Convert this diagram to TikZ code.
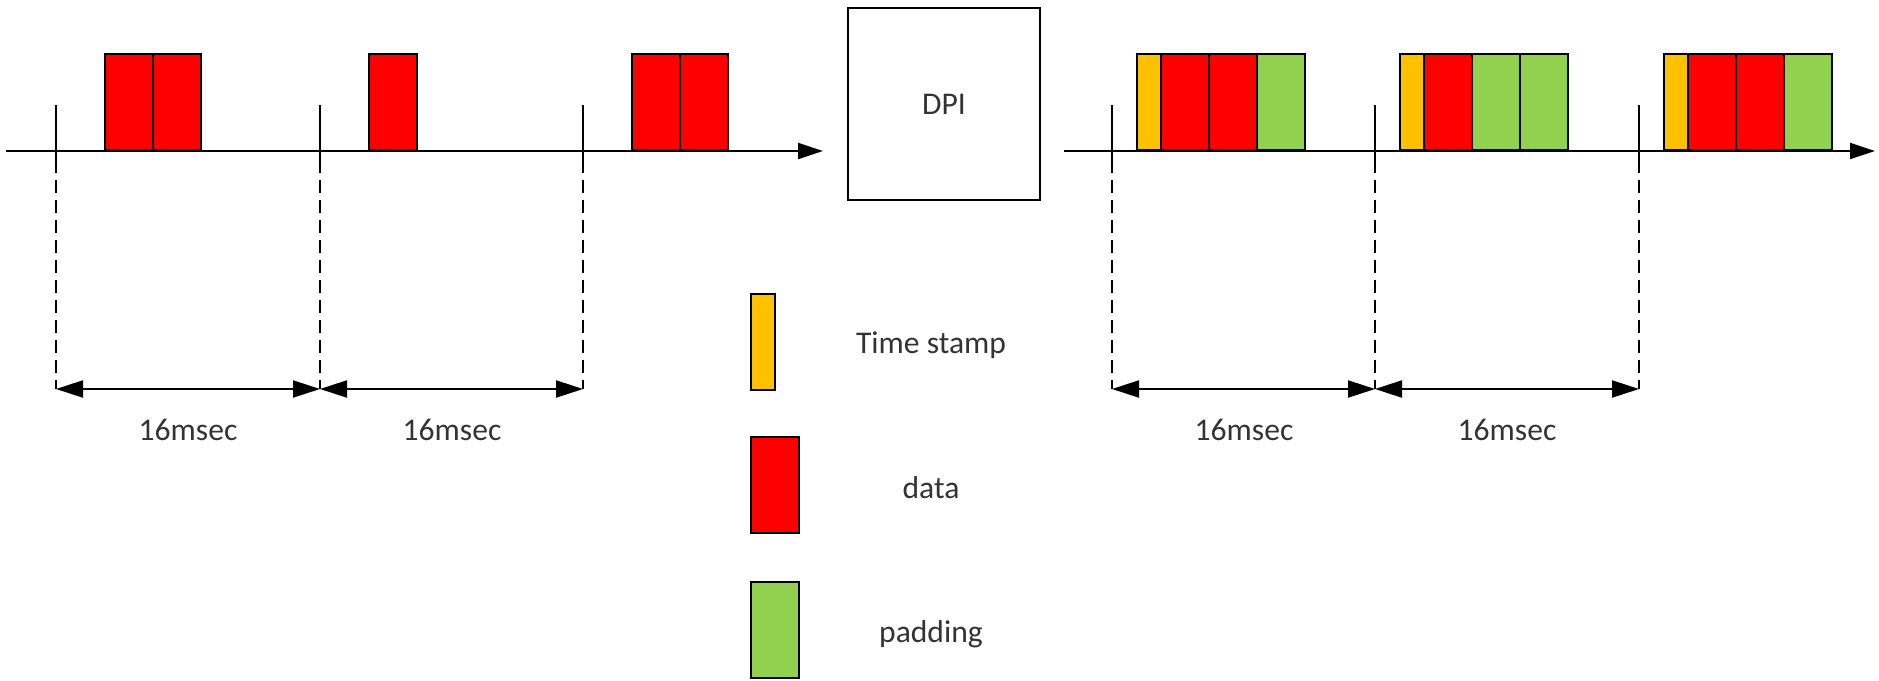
\documentclass[tikz,border=0pt]{standalone}
\usepackage{fontspec}
\setmainfont{Carlito}
\usepackage{xcolor}
\usetikzlibrary{arrows.meta}

\definecolor{tsorange}{HTML}{FFC000}
\definecolor{datared}{HTML}{FF0000}
\definecolor{padgreen}{HTML}{92D050}

\begin{document}
\begin{tikzpicture}[x=0.5pt,y=-0.5pt,line width=1pt,
		font=\fontsize{15.8}{19}\selectfont,text=black!80,
		axis/.style={-{Triangle[length=12.5pt,width=8pt]}},
		span/.style={{Triangle[length=13.5pt,width=8.5pt]}-{Triangle[length=13.5pt,width=8.5pt]}},
		guide/.style={dash pattern=on 6.5pt off 3.5pt},
		cell/.style={draw,inner sep=0pt,anchor=south west,minimum height=48pt},
		stampbox/.style={cell,fill=tsorange,minimum width=12pt},
		databox/.style={cell,fill=datared,minimum width=24pt},
		padbox/.style={cell,fill=padgreen,minimum width=24pt}]

			\useasboundingbox (0,0) rectangle (1879,680);

			% Time axes
			\coordinate (inS) at (6,151);
			\coordinate (inE) at (823,151);
			\coordinate (outS) at (1064,151);
			\coordinate (outE) at (1875,151);
			\draw[axis] (inS) -- (inE);
			\draw[axis] (outS) -- (outE);

			% Frame ticks and guides
			\foreach \x/\n in {56/a,320/b,583/c,1112/d,1375/e,1639/f} {
				\coordinate (top\n) at (\x,105);
				\coordinate (mid\n) at (\x,160);
				\coordinate (bot\n) at (\x,389);
				\draw (top\n) -- (mid\n);
				\draw[guide] (mid\n) -- (bot\n);
			}

			% Input packets
			\node[databox] (a1) at (104,151) {};
			\node[databox] (a2) at (152,151) {};
			\node[databox] (b1) at (368,151) {};
			\node[databox] (c1) at (631,151) {};
			\node[databox] (c2) at (679,151) {};

			% DPI
			\node[draw,minimum size=96pt,inner sep=0pt] (dpi) at (944,104) {DPI};

			% Output frames
			\node[stampbox] (d0) at (1136,151) {};
			\node[databox] (d1) at (1160,151) {};
			\node[databox] (d2) at (1208,151) {};
			\node[padbox] (d3) at (1256,151) {};

			\node[stampbox] (e0) at (1399,151) {};
			\node[databox] (e1) at (1423,151) {};
			\node[padbox] (e2) at (1471,151) {};
			\node[padbox] (e3) at (1519,151) {};

			\node[stampbox] (f0) at (1663,151) {};
			\node[databox] (f1) at (1687,151) {};
			\node[databox] (f2) at (1735,151) {};
			\node[padbox] (f3) at (1783,151) {};

			% Spans
			\draw[span] (bota) -- (botb);
			\draw[span] (botb) -- (botc);
			\draw[span] (botd) -- (bote);
			\draw[span] (bote) -- (botf);
			\node (ab) at (188,430) {16msec};
			\node (bc) at (452,430) {16msec};
			\node (de) at (1244,430) {16msec};
			\node (ef) at (1507,430) {16msec};

			% Legend
			\node[stampbox,anchor=center] (keyts) at (763,342) {};
			\node[databox,anchor=center] (keydata) at (775,485) {};
			\node[padbox,anchor=center] (keypad) at (775,630) {};
			\node (lbts) at (931,345) {Time stamp};
			\node (lbdata) at (931,488) {data};
			\node (lbpad) at (931,634) {padding};
		\end{tikzpicture}
\end{document}
